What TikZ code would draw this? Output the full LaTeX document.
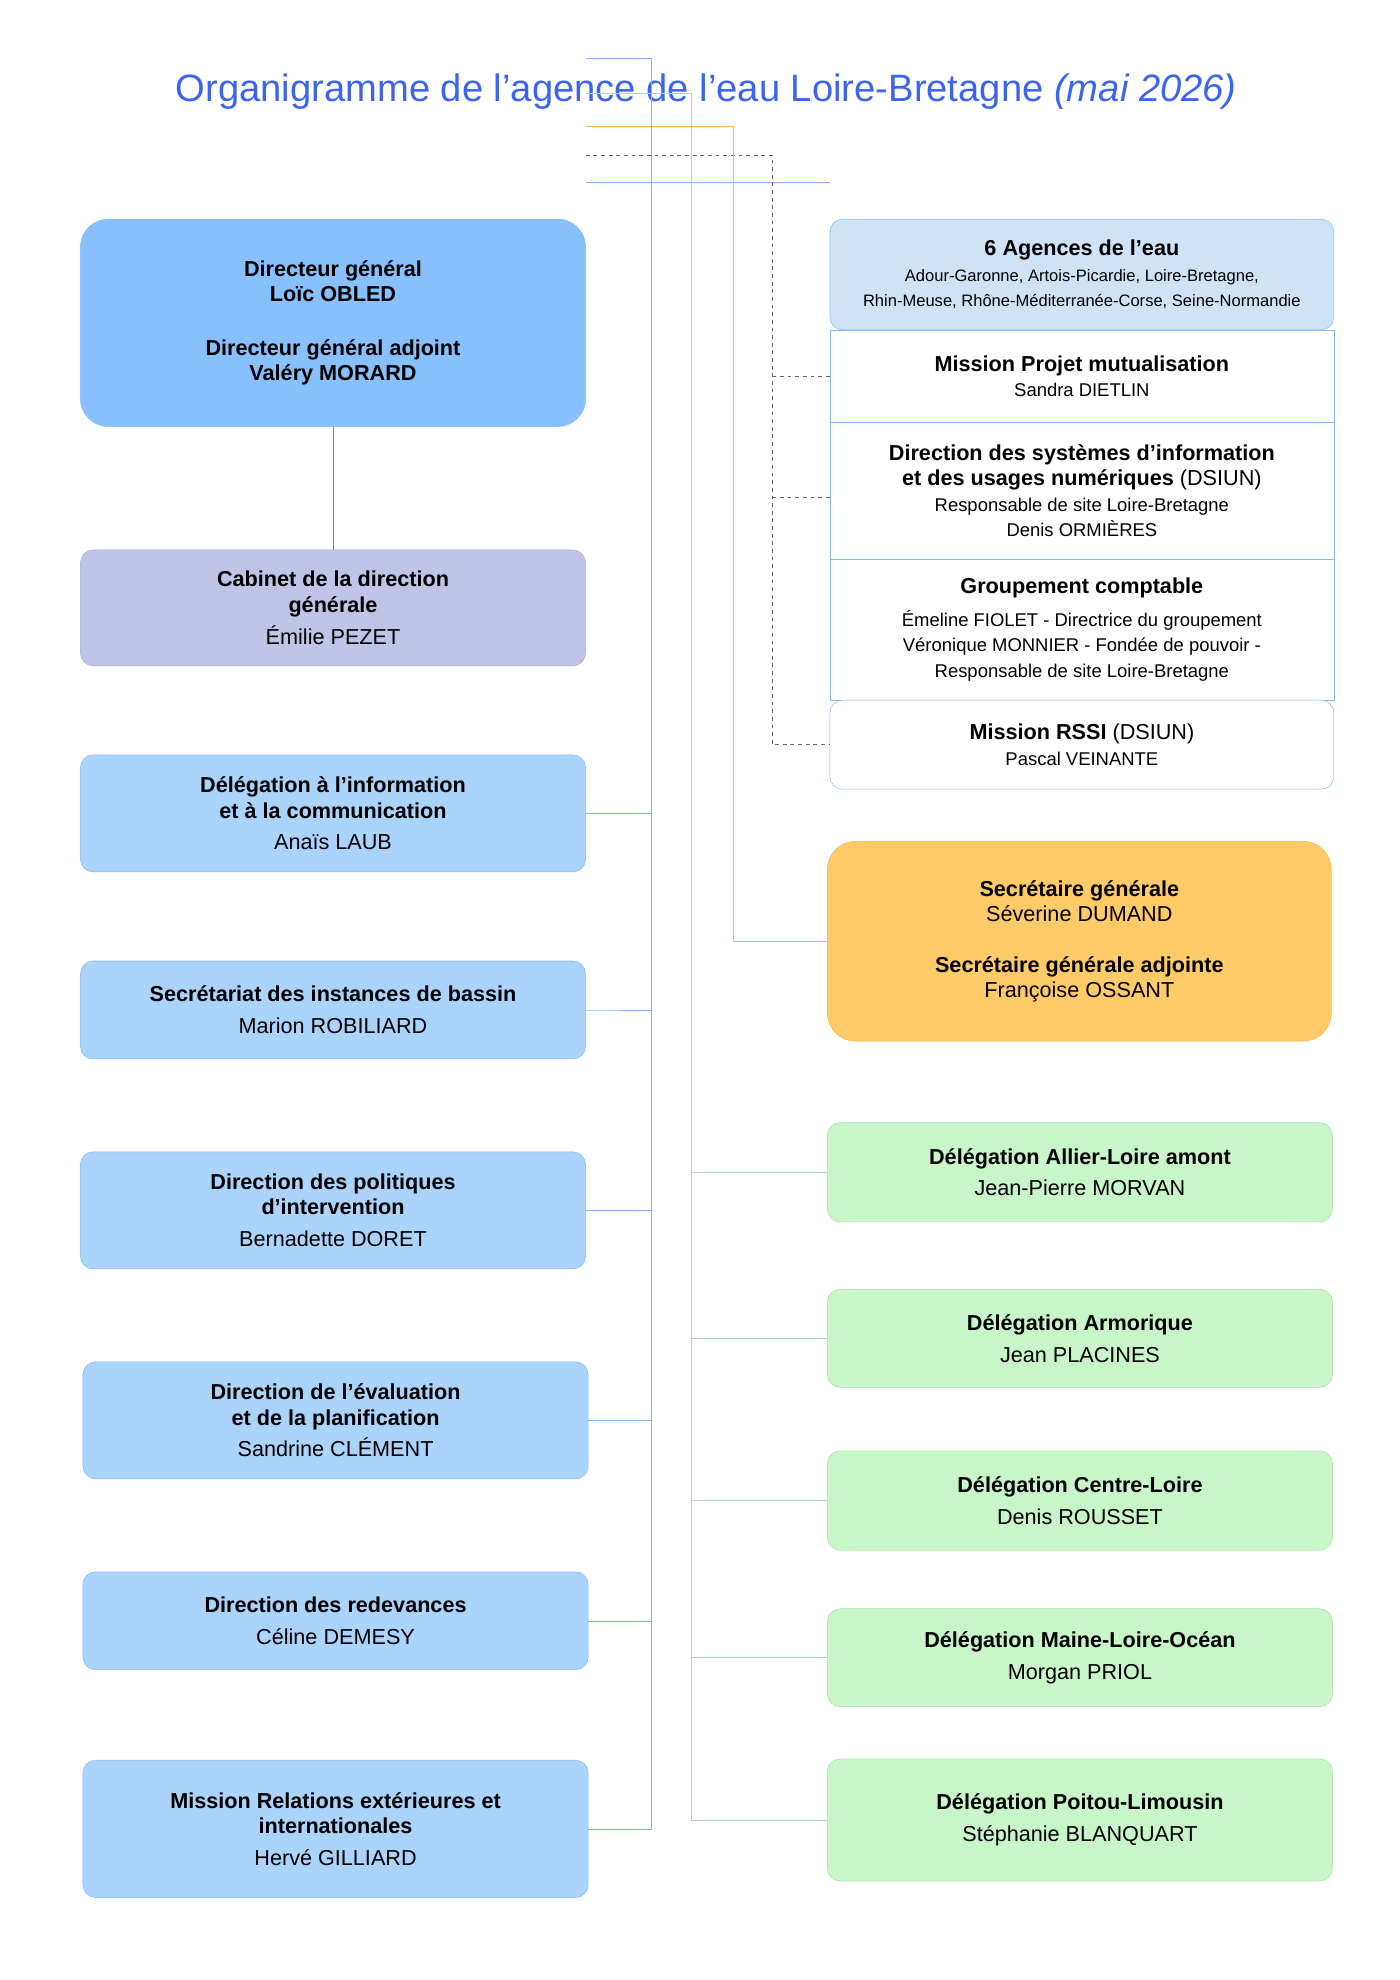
\documentclass[tikz,border=0pt]{standalone}
\usepackage{fontspec}
\setmainfont{Liberation Sans}
\usetikzlibrary{positioning}
\definecolor{titleblue}{RGB}{60,100,240}
\definecolor{dgfill}{RGB}{135,192,252}
\definecolor{cabfill}{RGB}{192,196,230}
\definecolor{cabline}{RGB}{170,170,215}
\definecolor{bluefill}{RGB}{170,212,252}
\definecolor{blueline}{RGB}{130,185,245}
\definecolor{agfill}{RGB}{206,228,246}
\definecolor{sgfill}{RGB}{255,202,104}
\definecolor{sgline}{RGB}{250,180,80}
\definecolor{greenfill}{RGB}{200,246,200}
\definecolor{greenline}{RGB}{170,225,170}
\definecolor{dglink}{RGB}{120,125,220}
\newcommand\smtxt{\fontsize{14.5}{19}\selectfont}
\newcommand\tinytxt{\fontsize{13}{16}\selectfont}
\tikzset{
  box/.style={draw=blueline, fill=bluefill, rounded corners=10pt, inner sep=0pt, align=center, font=\fontsize{17}{20}\selectfont, anchor=north west},
  gbox/.style={box, draw=greenline, fill=greenfill},
  wbox/.style={draw=blueline, fill=white, inner sep=0pt, align=center, font=\fontsize{17}{20}\selectfont, anchor=north west},
}
\begin{document}
\begin{tikzpicture}[x=1pt,y=1pt,yscale=-1]
\useasboundingbox (0,0) rectangle (1100,1556);
% title
\node[text=titleblue, font=\fontsize{30}{36}\selectfont] (title) at (555,72) {Organigramme de l'agence de l'eau Loire-Bretagne \textit{(mai 2026)}};

% left column
\node[box, fill=dgfill, rounded corners=22pt, minimum width=397pt, minimum height=163pt] (dg) at (63,172)
  {\textbf{Directeur général}\\\textbf{Loïc OBLED}\\[22pt]\textbf{Directeur général adjoint}\\\textbf{Valéry MORARD}};
\node[box, draw=cabline, fill=cabfill, minimum width=397pt, minimum height=91pt] (cab) at (63,432)
  {\textbf{Cabinet de la direction}\\\textbf{générale}\\[5pt]Émilie PEZET};
\node[box, minimum width=397pt, minimum height=92pt] (dicom) at (63,593)
  {\textbf{Délégation à l’information}\\\textbf{et à la communication}\\[5pt]Anaïs LAUB};
\node[box, minimum width=397pt, minimum height=77pt] (sib) at (63,755)
  {\textbf{Secrétariat des instances de bassin}\\[5pt]Marion ROBILIARD};
\node[box, minimum width=397pt, minimum height=92pt] (dpi) at (63,905)
  {\textbf{Direction des politiques}\\\textbf{d’intervention}\\[5pt]Bernadette DORET};
\node[box, minimum width=397pt, minimum height=92pt] (dep) at (65,1070)
  {\textbf{Direction de l’évaluation}\\\textbf{et de la planification}\\[5pt]Sandrine CLÉMENT};
\node[box, minimum width=397pt, minimum height=77pt] (dred) at (65,1235)
  {\textbf{Direction des redevances}\\[5pt]Céline DEMESY};
\node[box, minimum width=397pt, minimum height=108pt] (mrei) at (65,1383)
  {\textbf{Mission Relations extérieures et}\\\textbf{internationales}\\[5pt]Hervé GILLIARD};

% right group
\node[wbox, minimum width=396pt, minimum height=73pt] (mpm) at (652,259)
  {\textbf{Mission Projet mutualisation}\\\smtxt Sandra DIETLIN};
\node[wbox, minimum width=396pt, minimum height=107pt] (dsiun) at (652,332)
  {\textbf{Direction des systèmes d’information}\\\textbf{et des usages numériques} (DSIUN)\\
   \smtxt Responsable de site Loire-Bretagne\\\smtxt Denis ORMIÈRES};
\node[wbox, minimum width=396pt, minimum height=111pt] (gc) at (652,439)
  {\textbf{Groupement comptable}\\[6pt]
   \smtxt Émeline FIOLET - Directrice du groupement\\\smtxt Véronique MONNIER - Fondée de pouvoir -\\\smtxt Responsable de site Loire-Bretagne};
\node[box, fill=white, minimum width=396pt, minimum height=70pt] (rssi) at (652,550)
  {\textbf{Mission RSSI} (DSIUN)\\\smtxt Pascal VEINANTE};
\node[box, fill=agfill, minimum width=396pt, minimum height=87pt] (agences) at (652,172)
  {\textbf{6 Agences de l’eau}\\\tinytxt Adour-Garonne, Artois-Picardie, Loire-Bretagne,\\\tinytxt Rhin-Meuse, Rhône-Méditerranée-Corse, Seine-Normandie};

\node[box, draw=sgline, fill=sgfill, rounded corners=22pt, minimum width=396pt, minimum height=157pt] (sg) at (650,661)
  {\textbf{Secrétaire générale}\\Séverine DUMAND\\[20pt]\textbf{Secrétaire générale adjointe}\\Françoise OSSANT};

% delegations
\node[gbox, minimum width=397pt, minimum height=78pt] (dala) at (650,882)
  {\textbf{Délégation Allier-Loire amont}\\[5pt]Jean-Pierre MORVAN};
\node[gbox, minimum width=397pt, minimum height=77pt] (darm) at (650,1013)
  {\textbf{Délégation Armorique}\\[5pt]Jean PLACINES};
\node[gbox, minimum width=397pt, minimum height=78pt] (dcl) at (650,1140)
  {\textbf{Délégation Centre-Loire}\\[5pt]Denis ROUSSET};
\node[gbox, minimum width=397pt, minimum height=77pt] (dmlo) at (650,1264)
  {\textbf{Délégation Maine-Loire-Océan}\\[5pt]Morgan PRIOL};
\node[gbox, minimum width=397pt, minimum height=96pt] (dpl) at (650,1382)
  {\textbf{Délégation Poitou-Limousin}\\[5pt]Stéphanie BLANQUART};

% connectors
\draw[dglink] (dg.south -| cab.north) -- (cab.north);
\draw[blueline] ([yshift=-29]dg.north east) -- ([yshift=-29]agences.north west);
\draw[gray!80!black, dashed] ([yshift=-50]dg.north east) -| ([xshift=-45]rssi.west)
  -- (rssi.west);
\draw[gray!80!black, dashed] ([xshift=-45]mpm.west) -- (mpm.west);
\draw[gray!80!black, dashed] ([xshift=-45,yshift=5]dsiun.west) -- ([yshift=5]dsiun.west);
\draw[sgline] ([yshift=-73]dg.north east) -| ([xshift=-74]sg.west) -- (sg.west);
\draw[greenline] ([yshift=-99]dg.north east) -| ([xshift=-107]dpl.west) -- (dpl.west);
\foreach \n in {dala,darm,dcl,dmlo}
  \draw[greenline] ([xshift=-107]\n.west) -- (\n.west);
\draw[blueline] ([yshift=-126]dg.north east) -| ([xshift=49]mrei.east) -- (mrei.east);
\foreach \n in {dicom,sib,dpi,dep,dred}
  \draw[blueline] (\n.east) -- (\n.east -| mrei.east) -- ++(49,0);
\end{tikzpicture}
\end{document}
